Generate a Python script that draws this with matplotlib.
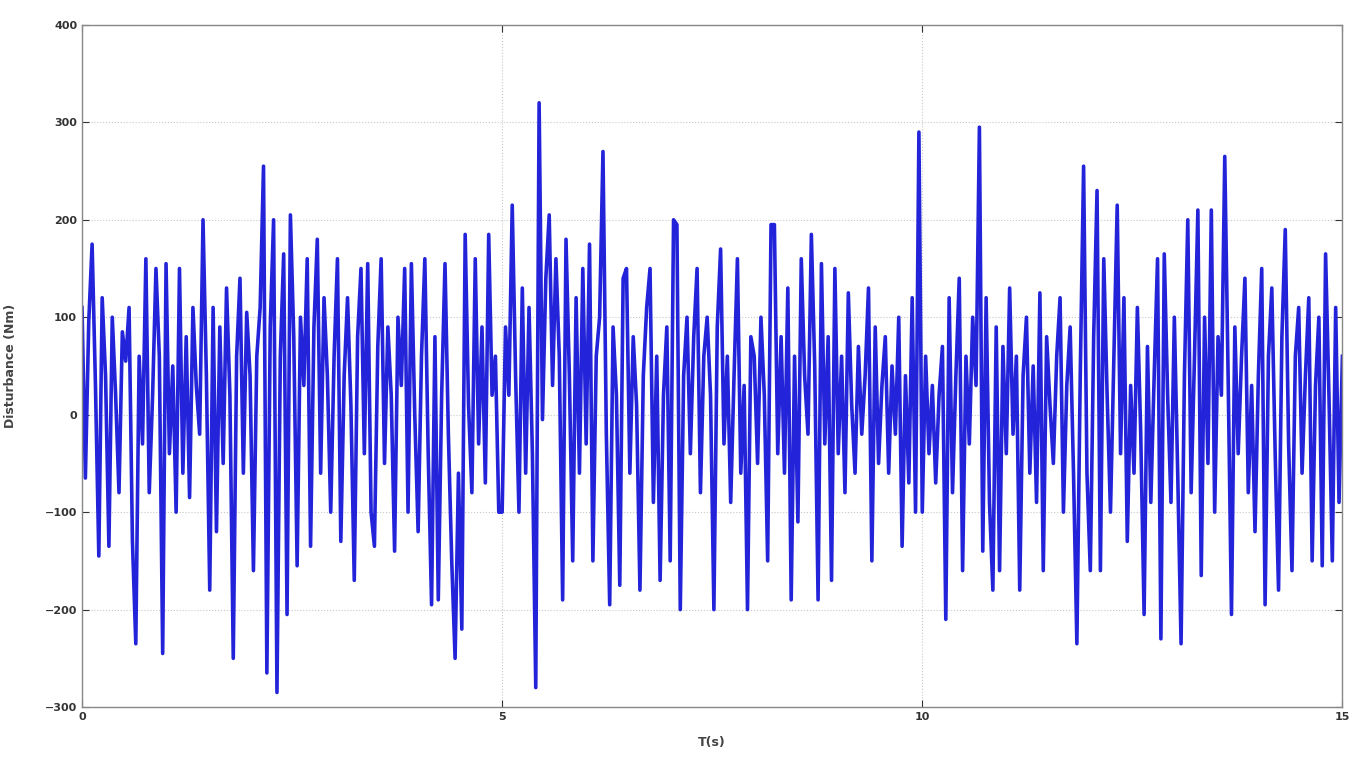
import numpy as np
import matplotlib.pyplot as plt

# disturbance torque, 25 samples per second (dt = 0.04 s)
sec_00 = [110, -65, 95, 175, 30, -145, 120, 40, -135, 100, 20, -80, 85, 55, 110, -130, -235, 60, -30, 160, -80, 20, 150, 60, -245]
sec_01 = [155, -40, 50, -100, 150, -60, 80, -85, 110, 30, -20, 200, 40, -180, 110, -120, 90, -50, 130, 20, -250, 60, 140, -60, 105]
sec_02 = [40, -160, 60, 110, 255, -265, 90, 200, -285, 60, 165, -205, 205, 80, -155, 100, 30, 160, -135, 90, 180, -60, 120, 40, -100]
sec_03 = [60, 160, -130, 40, 120, 10, -170, 80, 150, -40, 155, -100, -135, 70, 160, -50, 90, 20, -140, 100, 30, 150, -100, 155, 0]
sec_04 = [-120, 60, 160, -40, -195, 80, -190, 20, 155, -20, -150, -250, -60, -220, 185, 10, -80, 160, -30, 90, -70, 185, 20, 60, -100]
sec_05 = [-100, 90, 20, 215, 40, -100, 130, -60, 110, -40, -280, 320, -5, 140, 205, 30, 160, 60, -190, 180, 40, -150, 120, -60, 150]
sec_06 = [-30, 175, -150, 60, 100, 270, -20, -195, 90, 20, -175, 140, 150, -60, 80, 10, -180, 40, 110, 150, -90, 60, -170, 20, 90]
sec_07 = [-150, 200, 195, -200, 40, 100, -40, 80, 150, -80, 60, 100, 20, -200, 90, 170, -30, 60, -90, 40, 160, -60, 30, -200, 80]
sec_08 = [60, -50, 100, 20, -150, 195, 195, -40, 80, -60, 130, -190, 60, -110, 160, 40, -20, 185, 50, -190, 155, -30, 80, -170, 150]
sec_09 = [-40, 60, -80, 125, 10, -60, 70, -20, 40, 130, -150, 90, -50, 30, 80, -60, 50, -20, 100, -135, 40, -70, 120, -100, 290]
sec_10 = [-100, 60, -40, 30, -70, 20, 70, -210, 120, -80, 40, 140, -160, 60, -30, 100, 30, 295, -140, 120, -90, -180, 90, -160, 70]
sec_11 = [-40, 130, -20, 60, -180, 40, 100, -60, 50, -90, 125, -160, 80, 10, -50, 60, 120, -100, 30, 90, -60, -235, 40, 255, -60]
sec_12 = [-160, 80, 230, -160, 160, 20, -100, 60, 215, -40, 120, -130, 30, -60, 110, -20, -205, 70, -90, 40, 160, -230, 165, 20, -90]
sec_13 = [100, -60, -235, 40, 200, -80, 60, 210, -165, 100, -50, 210, -100, 80, 20, 265, 40, -205, 90, -40, 60, 140, -80, 30, -120]
sec_14 = [40, 150, -195, 60, 130, -40, -180, 80, 190, -30, -160, 60, 110, -60, 40, 120, -150, 30, 100, -155, 165, 20, -150, 110, -90]
last_value = [60]

disturbance = (sec_00 + sec_01 + sec_02 + sec_03 + sec_04 + sec_05 + sec_06 + sec_07
               + sec_08 + sec_09 + sec_10 + sec_11 + sec_12 + sec_13 + sec_14 + last_value)
dt = 0.04
t = np.arange(len(disturbance)) * dt

fig = plt.figure(figsize=(13.67, 7.77), dpi=100)
ax = fig.add_axes([0.060, 0.090, 0.922, 0.878])
ax.plot(t, disturbance, color='#2323d9', linewidth=2.6)

ax.set_xlim(0, 15)
ax.set_ylim(-300, 400)
ax.set_xticks([0, 5, 10, 15])
ax.set_yticks(range(-300, 401, 100))
ax.grid(True, linestyle=':', color='#c8c8c8', linewidth=0.8)
ax.tick_params(direction='in', top=True, right=True, labelsize=8, length=5, colors='#333333')
for lbl in ax.get_xticklabels() + ax.get_yticklabels():
    lbl.set_fontweight('bold')
for sp in ax.spines.values():
    sp.set_color('#888888')
    sp.set_linewidth(1.0)

ax.set_xlabel('T(s)', fontsize=9, fontweight='bold', labelpad=10, color='#444444')
ax.set_ylabel('Disturbance (Nm)', fontsize=9, fontweight='bold', labelpad=20, color='#444444')

fig.savefig('out.png', dpi=100)
